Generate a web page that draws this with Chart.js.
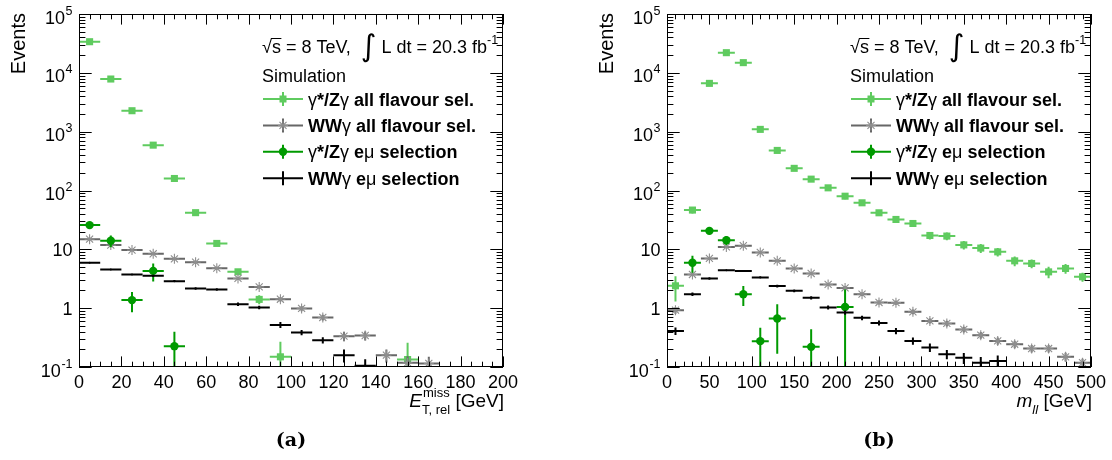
<!DOCTYPE html>
<html>
<head>
<meta charset="utf-8">
<script src="https://cdn.jsdelivr.net/npm/chart.js@4/dist/chart.umd.min.js"></script>
<style>
  body { margin: 0; background: #fff; width: 1112px; height: 460px; overflow: hidden; }
  .panel { position: absolute; top: 0; width: 556px; height: 460px; }
</style>
</head>
<body>
<div class="panel" style="left:0"><canvas id="chartA"></canvas></div>
<div class="panel" style="left:556px"><canvas id="chartB"></canvas></div>
<script>
// ---- data: panel (a), E_T,rel^miss in 10 GeV bins ----
const leftBinCenters = [5, 15, 25, 35, 45, 55, 65, 75, 85, 95, 105, 115, 125, 135, 145, 155, 165, 175, 185, 195];
const leftBinWidth = 10;
const leftZgAll    = [33800, 7850, 2270, 590, 160, 42, 12.6, 4.15, 1.41, 0.149, null, null, null, null, null, 0.134, null, null, null, null];
const leftZgAllErr = [800, 180, 70, 25, 9, 3, 1.2, 0.5, 0.25, 0.12, null, null, null, null, null, 0.125, null, null, null, null];
const leftWwAll    = [14.9, 11.8, 9.7, 8.4, 6.9, 6.05, 4.78, 3.2, 2.3, 1.42, 0.99, 0.695, 0.334, 0.343, 0.159, 0.118, 0.115, null, null, null];
const leftWwAllErr = [0.5, 0.45, 0.4, 0.35, 0.3, 0.28, 0.24, 0.2, 0.16, 0.12, 0.1, 0.08, 0.06, 0.06, 0.04, 0.035, 0.035, null, null, null];
const leftZgEmu    = [25.8, 14, 1.37, 4.3, 0.226, null, null, null, null, null, null, null, null, null, null, null, null, null, null, null];
const leftZgEmuErr = [3, 3.2, 0.52, 1.45, 0.17, null, null, null, null, null, null, null, null, null, null, null, null, null, null, null];
const leftWwEmu    = [5.9, 4.55, 3.74, 3.54, 2.88, 2.16, 2.08, 1.17, 1.03, 0.52, 0.386, 0.286, 0.159, 0.105, null, null, null, null, null, null];
const leftWwEmuErr = [0.2, 0.15, 0.14, 0.14, 0.12, 0.1, 0.1, 0.08, 0.07, 0.06, 0.04, 0.035, 0.04, 0.03, null, null, null, null, null, null];

// ---- data: panel (b), m_ll in 20 GeV bins ----
const rightBinCenters = [10, 30, 50, 70, 90, 110, 130, 150, 170, 190, 210, 230, 250, 270, 290, 310, 330, 350, 370, 390, 410, 430, 450, 470, 490];
const rightBinWidth = 20;
const rightZgAll    = [2.4, 46.5, 6620, 22000, 14900, 1094, 480, 238, 156, 111, 80, 61.8, 41.8, 32.2, 27.5, 17.2, 16.8, 11.9, 10.5, 9.06, 6.37, 5.75, 4.14, 4.73, 3.41];
const rightZgAllErr = [1.1, 6, 150, 250, 200, 60, 35, 20, 15, 12, 9, 7, 5, 4, 3.5, 2.5, 2.5, 2, 1.8, 1.5, 1.2, 1, 0.9, 0.9, 0.6];
const rightWwAll    = [0.925, 3.74, 7.0, 11.0, 11.5, 8.85, 6.37, 4.73, 3.89, 2.53, 2.21, 1.73, 1.25, 1.24, 0.865, 0.608, 0.55, 0.435, 0.348, 0.278, 0.244, 0.206, 0.206, 0.149, 0.118];
const rightWwAllErr = [0.12, 0.2, 0.3, 0.35, 0.35, 0.3, 0.25, 0.22, 0.2, 0.15, 0.14, 0.12, 0.1, 0.1, 0.08, 0.06, 0.06, 0.05, 0.045, 0.04, 0.035, 0.03, 0.03, 0.025, 0.02];
const rightZgEmu    = [null, 5.9, 20.6, 14.3, 1.73, 0.275, 0.668, null, 0.22, null, 1.05, null, null, null, null, null, null, null, null, null, null, null, null, null, null];
const rightZgEmuErr = [null, 1.9, 2.5, 2.5, 0.64, 0.19, 0.5, null, 0.22, null, 1.03, null, null, null, null, null, null, null, null, null, null, null, null, null, null];
const rightWwEmu    = [0.41, 1.73, 3.2, 4.43, 4.3, 3.33, 2.37, 1.97, 1.5, 1.03, 0.846, 0.684, 0.562, 0.41, 0.278, 0.215, 0.165, 0.143, 0.118, 0.127, null, null, null, null, null];
const rightWwEmuErr = [0.06, 0.12, 0.15, 0.17, 0.17, 0.15, 0.12, 0.11, 0.1, 0.08, 0.07, 0.06, 0.055, 0.05, 0.04, 0.035, 0.03, 0.03, 0.03, 0.03, null, null, null, null, null];

// ---- axis ticks ----
const leftXTicks = [0, 20, 40, 60, 80, 100, 120, 140, 160, 180, 200];
const rightXTicks = [0, 50, 100, 150, 200, 250, 300, 350, 400, 450, 500];
const yTickValues = [0.1, 1, 10, 100, 1000, 10000, 100000];
const yTickLabels = [['10', '-1'], ['1', ''], ['10', ''], ['10', '2'], ['10', '3'], ['10', '4'], ['10', '5']];

const SANS = '"Liberation Sans", Arial, Helvetica, sans-serif';
const LIGHT_GREEN = '#5fcb5f';
const DARK_GREEN = '#009a00';
const GRAY_LINE = '#676767';
const GRAY_STAR = '#8e8e8e';

/**
 * Zip bin centres, values and errors into scatter points (empty bins dropped)
 */
function makePoints(centers, values, errors) {
    const pts = [];
    centers.forEach((c, i) => {
        if (values[i] !== null) {
            pts.push({ x: c, y: values[i], err: errors[i] });
        }
    });
    return pts;
}

/**
 * Draw a run of text pieces with different fonts / vertical shifts
 */
function drawRich(ctx, x, y, segs) {
    let cx = x;
    segs.forEach(s => {
        ctx.font = s.font;
        ctx.fillText(s.t, cx, y + (s.dy || 0));
        cx += ctx.measureText(s.t).width;
    });
    return cx - x;
}

function drawMarker(ctx, style, x, y, color) {
    ctx.save();
    ctx.fillStyle = color;
    ctx.strokeStyle = color;
    if (style === 'rect') {
        ctx.fillRect(x - 3.5, y - 3.5, 7, 7);
    } else if (style === 'circle') {
        ctx.beginPath();
        ctx.arc(x, y, 4.2, 0, Math.PI * 2);
        ctx.fill();
    } else if (style === 'star') {
        ctx.lineWidth = 1.1;
        ctx.beginPath();
        for (let k = 0; k < 4; k++) {
            const ang = k * Math.PI / 4;
            ctx.moveTo(x - 5 * Math.cos(ang), y - 5 * Math.sin(ang));
            ctx.lineTo(x + 5 * Math.cos(ang), y + 5 * Math.sin(ang));
        }
        ctx.stroke();
    }
    ctx.restore();
}

function bold(t) { return { t: t, font: `bold 18px ${SANS}` }; }
function plain(t) { return { t: t, font: `18px ${SANS}` }; }

const legendEntries = [
    { color: LIGHT_GREEN, marker: 'rect', segs: [plain('γ'), bold('*/Z'), plain('γ'), bold(' all flavour sel.')] },
    { color: GRAY_LINE, markerColor: GRAY_STAR, marker: 'star', segs: [bold('WW'), plain('γ'), bold(' all flavour sel.')] },
    { color: DARK_GREEN, marker: 'circle', segs: [plain('γ'), bold('*/Z'), plain('γ'), bold(' e'), plain('μ'), bold(' selection')] },
    { color: '#000', marker: null, segs: [bold('WW'), plain('γ'), bold(' e'), plain('μ'), bold(' selection')] }
];

/**
 * ROOT/ATLAS-like frame: inward ticks on all sides, error bars, texts
 */
function makePanelPlugin(cfg) {
    return {
        id: 'rootPanel',
        beforeDatasetDraw(chart, args) {
            const ds = chart.data.datasets[args.index];
            const xs = chart.scales.x, ys = chart.scales.y;
            const a = chart.chartArea;
            const ctx = chart.ctx;
            ctx.save();
            ctx.beginPath();
            ctx.rect(a.left, a.top, a.right - a.left, a.bottom - a.top);
            ctx.clip();
            ctx.strokeStyle = ds.barColor;
            ctx.lineWidth = 2;
            ds.data.forEach(p => {
                const px = xs.getPixelForValue(p.x);
                const py = ys.getPixelForValue(p.y);
                ctx.beginPath();
                ctx.moveTo(xs.getPixelForValue(p.x - ds.binWidth / 2), py);
                ctx.lineTo(xs.getPixelForValue(p.x + ds.binWidth / 2), py);
                if (p.err) {
                    const lo = p.y - p.err;
                    const ylo = lo > 0 ? ys.getPixelForValue(lo) : a.bottom + 5;
                    ctx.moveTo(px, ylo);
                    ctx.lineTo(px, ys.getPixelForValue(p.y + p.err));
                }
                ctx.stroke();
            });
            ctx.restore();
        },
        afterDraw(chart) {
            const ctx = chart.ctx;
            const a = chart.chartArea;
            const xs = chart.scales.x, ys = chart.scales.y;
            ctx.save();
            ctx.strokeStyle = '#000';
            ctx.fillStyle = '#000';
            ctx.lineWidth = 1;

            // frame
            ctx.strokeRect(a.left + 0.5, a.top + 0.5, a.right - a.left - 1, a.bottom - a.top - 1);

            // x ticks (top + bottom, inward)
            ctx.beginPath();
            for (let v = xs.min; v <= xs.max + 1e-9; v += cfg.xMinor) {
                const px = Math.round(xs.getPixelForValue(v)) + 0.5;
                const major = Math.abs(v / cfg.xMajor - Math.round(v / cfg.xMajor)) < 1e-6;
                const len = major ? 10.6 : 5.3;
                ctx.moveTo(px, a.bottom); ctx.lineTo(px, a.bottom - len);
                ctx.moveTo(px, a.top); ctx.lineTo(px, a.top + len);
            }
            // y ticks (log, left + right)
            for (let d = -1; d <= 4; d++) {
                for (let m = 1; m <= 9; m++) {
                    const py = Math.round(ys.getPixelForValue(m * Math.pow(10, d))) + 0.5;
                    const len = m === 1 ? 12.7 : 6.4;
                    ctx.moveTo(a.left, py); ctx.lineTo(a.left + len, py);
                    ctx.moveTo(a.right, py); ctx.lineTo(a.right - len, py);
                }
            }
            const topY = Math.round(ys.getPixelForValue(1e5)) + 0.5;
            ctx.moveTo(a.left, topY); ctx.lineTo(a.left + 12.7, topY);
            ctx.moveTo(a.right, topY); ctx.lineTo(a.right - 12.7, topY);
            ctx.stroke();

            // x tick labels
            ctx.font = `18px ${SANS}`;
            ctx.textAlign = 'center';
            ctx.textBaseline = 'alphabetic';
            cfg.xTicks.forEach(v => {
                ctx.fillText(String(v), xs.getPixelForValue(v), a.bottom + 20.5);
            });

            // y tick labels with superscript exponents
            yTickValues.forEach((v, i) => {
                const [base, sup] = yTickLabels[i];
                const py = ys.getPixelForValue(v);
                const right = a.left - 6.5;
                ctx.textAlign = 'right';
                if (sup) {
                    ctx.font = `12.5px ${SANS}`;
                    const sw = ctx.measureText(sup).width;
                    const baseY = py + 9.5;
                    ctx.fillText(sup, right, baseY - 9);
                    ctx.font = `18px ${SANS}`;
                    ctx.fillText(base, right - sw - 0.5, baseY);
                } else {
                    ctx.font = `18px ${SANS}`;
                    ctx.fillText(base, right, py + 6.5);
                }
            });

            // y title
            ctx.save();
            ctx.translate(a.left - 54, a.top - 1);
            ctx.rotate(-Math.PI / 2);
            ctx.textAlign = 'right';
            ctx.font = `20px ${SANS}`;
            ctx.fillText('Events', 0, 0);
            ctx.restore();

            // x title, right aligned to the axis end
            ctx.textAlign = 'left';
            const t = cfg.xTitle;
            ctx.font = `italic 19px ${SANS}`;
            const wMain = ctx.measureText(t.main).width;
            ctx.font = `${t.subItalic ? 'italic ' : ''}13px ${SANS}`;
            const wSub = ctx.measureText(t.sub).width;
            ctx.font = `13px ${SANS}`;
            const wSup = t.sup ? ctx.measureText(t.sup).width : 0;
            ctx.font = `19px ${SANS}`;
            const wUnit = ctx.measureText(t.unit).width;
            const titleBase = a.bottom + 40;
            let tx = a.right + 1 - (wMain + Math.max(wSub, wSup) + wUnit);
            ctx.font = `italic 19px ${SANS}`;
            ctx.fillText(t.main, tx, titleBase);
            tx += wMain;
            if (t.sup) {
                ctx.font = `13px ${SANS}`;
                ctx.fillText(t.sup, tx + 1, titleBase - 10);
            }
            ctx.font = `${t.subItalic ? 'italic ' : ''}13px ${SANS}`;
            ctx.fillText(t.sub, tx, titleBase + 7);
            tx += Math.max(wSub, wSup);
            ctx.font = `19px ${SANS}`;
            ctx.fillText(t.unit, tx, titleBase);

            // energy / luminosity text
            const lx = a.left + 183;
            const sqW = drawRich(ctx, lx, 53, [plain('√')]);
            ctx.font = `18px ${SANS}`;
            const sW = ctx.measureText('s').width;
            ctx.fillText('s', lx + sqW, 53);
            ctx.beginPath();
            ctx.moveTo(lx + sqW - 1, 38.5);
            ctx.lineTo(lx + sqW + sW + 0.5, 38.5);
            ctx.stroke();
            let cx = lx + sqW + sW;
            cx += drawRich(ctx, cx, 53, [plain(' = 8 TeV,  ')]);
            cx += drawRich(ctx, cx, 56, [{ t: '∫', font: `30px "DejaVu Sans", ${SANS}` }]);
            cx += drawRich(ctx, cx, 53, [plain(' L dt = 20.3 fb')]);
            drawRich(ctx, cx, 44, [{ t: '-1', font: `12.5px ${SANS}` }]);
            drawRich(ctx, lx, 82, [plain('Simulation')]);

            // legend
            legendEntries.forEach((e, i) => {
                const ry = 99 + i * 26.4;
                const mx = a.left + 204;
                ctx.strokeStyle = e.color;
                ctx.lineWidth = 2;
                ctx.beginPath();
                ctx.moveTo(a.left + 184, ry); ctx.lineTo(a.left + 224, ry);
                ctx.moveTo(mx, ry - 7); ctx.lineTo(mx, ry + 7);
                ctx.stroke();
                if (e.marker) drawMarker(ctx, e.marker, mx, ry, e.markerColor || e.color);
                ctx.fillStyle = '#000';
                drawRich(ctx, a.left + 229, ry + 6.5, e.segs);
            });

            // panel label
            ctx.textAlign = 'center';
            ctx.font = `bold 19px "DejaVu Serif", "Liberation Serif", serif`;
            ctx.fillText(cfg.panelLabel, (a.left + a.right) / 2, 446);
            ctx.restore();
        }
    };
}

function makeDatasets(centers, binWidth, zgAll, zgAllErr, wwAll, wwAllErr, zgEmu, zgEmuErr, wwEmu, wwEmuErr) {
    return [
        {
            label: 'γ*/Zγ all flavour sel.',
            data: makePoints(centers, zgAll, zgAllErr),
            binWidth: binWidth, barColor: LIGHT_GREEN,
            pointStyle: 'rect', pointRadius: 5, backgroundColor: LIGHT_GREEN, borderColor: LIGHT_GREEN, borderWidth: 0,
            order: 4
        },
        {
            label: 'WWγ all flavour sel.',
            data: makePoints(centers, wwAll, wwAllErr),
            binWidth: binWidth, barColor: GRAY_LINE,
            pointStyle: 'star', pointRadius: 5, backgroundColor: GRAY_STAR, borderColor: GRAY_STAR, borderWidth: 1.1,
            order: 3
        },
        {
            label: 'γ*/Zγ eμ selection',
            data: makePoints(centers, zgEmu, zgEmuErr),
            binWidth: binWidth, barColor: DARK_GREEN,
            pointStyle: 'circle', pointRadius: 4.2, backgroundColor: DARK_GREEN, borderColor: DARK_GREEN, borderWidth: 0,
            order: 2
        },
        {
            label: 'WWγ eμ selection',
            data: makePoints(centers, wwEmu, wwEmuErr),
            binWidth: binWidth, barColor: '#000',
            pointStyle: 'circle', pointRadius: 1, backgroundColor: '#000', borderColor: '#000', borderWidth: 0,
            order: 1
        }
    ];
}

function makeOptions(xMax, padding) {
    return {
        responsive: true,
        maintainAspectRatio: false,
        animation: false,
        layout: { padding: padding },
        plugins: { legend: { display: false }, tooltip: { enabled: false } },
        scales: {
            x: { type: 'linear', min: 0, max: xMax, display: false },
            y: { type: 'logarithmic', min: 0.1, max: 100000, display: false }
        }
    };
}

new Chart(document.getElementById('chartA'), {
    type: 'scatter',
    data: {
        datasets: makeDatasets(leftBinCenters, leftBinWidth,
            leftZgAll, leftZgAllErr, leftWwAll, leftWwAllErr,
            leftZgEmu, leftZgEmuErr, leftWwEmu, leftWwEmuErr)
    },
    options: makeOptions(200, { left: 79, right: 53, top: 14, bottom: 93 }),
    plugins: [makePanelPlugin({
        xMajor: 20, xMinor: 5, xTicks: leftXTicks, panelLabel: '(a)',
        xTitle: { main: 'E', sup: 'miss', sub: 'T, rel', unit: ' [GeV]' }
    })]
});

new Chart(document.getElementById('chartB'), {
    type: 'scatter',
    data: {
        datasets: makeDatasets(rightBinCenters, rightBinWidth,
            rightZgAll, rightZgAllErr, rightWwAll, rightWwAllErr,
            rightZgEmu, rightZgEmuErr, rightWwEmu, rightWwEmuErr)
    },
    options: makeOptions(500, { left: 111, right: 21, top: 14, bottom: 93 }),
    plugins: [makePanelPlugin({
        xMajor: 50, xMinor: 10, xTicks: rightXTicks, panelLabel: '(b)',
        xTitle: { main: 'm', sup: '', sub: 'll', subItalic: true, unit: ' [GeV]' }
    })]
});
</script>
</body>
</html>
